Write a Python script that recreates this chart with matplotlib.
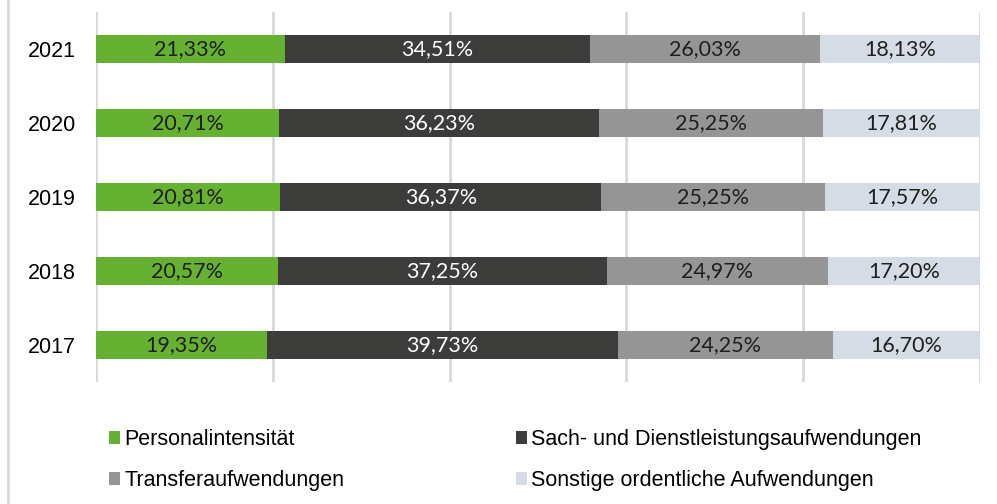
import numpy as np
import matplotlib
matplotlib.use("Agg")
import matplotlib.pyplot as plt
from matplotlib.patches import Patch
from matplotlib.lines import Line2D

# ========== Daten ==========
years = ["2017", "2018", "2019", "2020", "2021"]
personal = [19.35, 20.57, 20.81, 20.71, 21.33]
sach = [39.73, 37.25, 36.37, 36.23, 34.51]
transfer = [24.25, 24.97, 25.25, 25.25, 26.03]
sonstige = [16.70, 17.20, 17.57, 17.81, 18.13]

series_names = ["Personalintensität", "Sach- und Dienstleistungsaufwendungen",
                "Transferaufwendungen", "Sonstige ordentliche Aufwendungen"]
series_vals = [personal, sach, transfer, sonstige]
colors = ["#66B132", "#3C3C3B", "#959595", "#D6DCE5"]
text_colors = ["#1f1f1f", "white", "#1f1f1f", "#1f1f1f"]

# ========== Zeichnen ==========
fig = plt.figure(figsize=(9.97, 5.04), dpi=100)
ax = fig.add_axes([96 / 997, 122 / 504, 884 / 997, 370 / 504])

y = np.arange(len(years))
left = np.zeros(len(years))
for name, vals, c, tc in zip(series_names, series_vals, colors, text_colors):
    vals = np.array(vals)
    ax.barh(y, vals, left=left, height=0.39, color=c, label=name, zorder=2)
    for yi, l, v in zip(y, left, vals):
        ax.text(l + v / 2, yi, f"{v:.2f}%".replace(".", ","), ha="center", va="center",
                color=tc, fontsize=15.5, family="Lato", zorder=3)
    left += vals

ax.set_xlim(0, 100)
ax.set_ylim(-0.5, 4.5)
ax.set_yticks(y)
ax.set_yticklabels(years, fontsize=15.5, family="Liberation Sans")
ax.tick_params(axis="y", length=0, pad=14.5)
ax.set_xticks(np.arange(0, 101, 20))
ax.tick_params(axis="x", length=0, labelbottom=False)
ax.grid(axis="x", color="#D9D9D9", linewidth=2, zorder=0)
for s in ax.spines.values():
    s.set_visible(False)

# Legende (zwei Spalten)
h = [Patch(facecolor=c) for c in colors]
leg_kw = dict(frameon=False, handlelength=0.51, handleheight=0.51,
              handletextpad=0.19, labelspacing=0.93, borderpad=0, borderaxespad=0,
              prop={"family": "Liberation Sans", "size": 15.5})
leg1 = fig.legend([h[0], h[2]], [series_names[0], series_names[2]],
                  loc="upper left", bbox_to_anchor=(109 / 997, 1 - 429 / 504), **leg_kw)
leg2 = fig.legend([h[1], h[3]], [series_names[1], series_names[3]],
                  loc="upper left", bbox_to_anchor=(516 / 997, 1 - 429 / 504), **leg_kw)

# linker Rahmen
fig.add_artist(Line2D([8 / 997, 8 / 997], [0, 1], color="#D9D9D9", linewidth=2,
                      transform=fig.transFigure))

fig.savefig("out.png", dpi=100)
